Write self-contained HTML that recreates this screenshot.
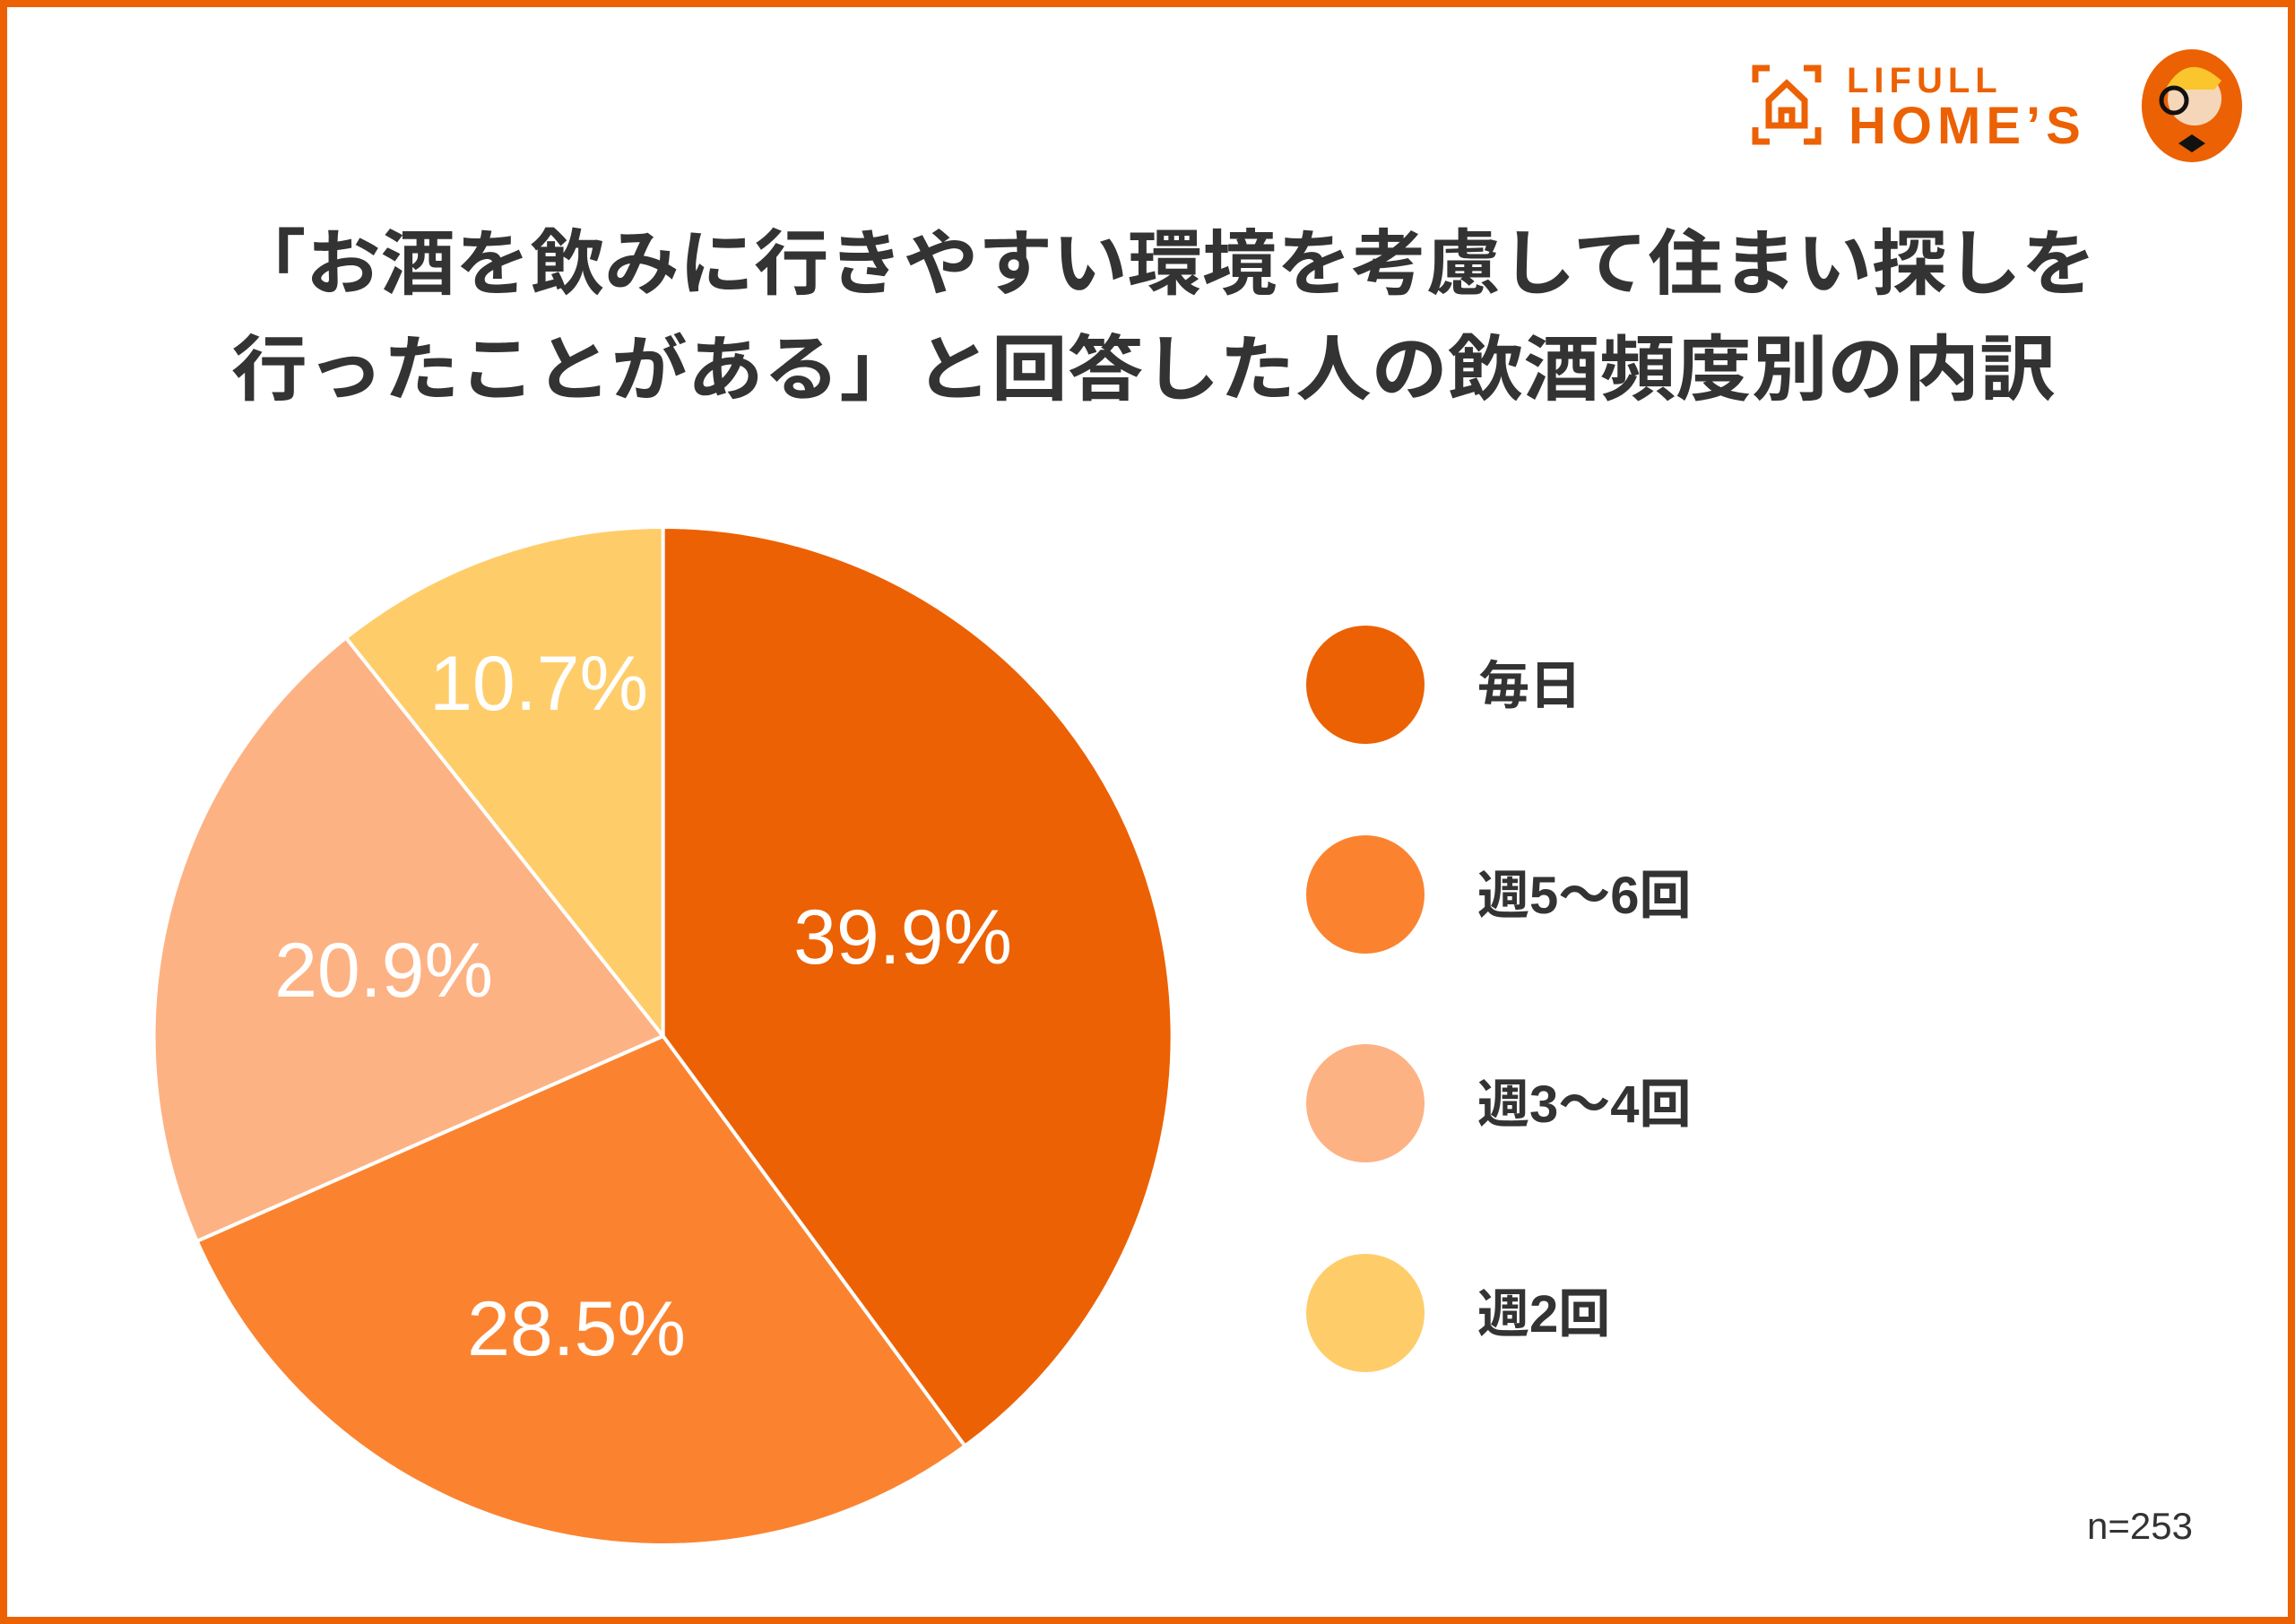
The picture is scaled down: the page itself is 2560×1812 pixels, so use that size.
<!DOCTYPE html>
<html><head><meta charset="utf-8"><style>
html,body{margin:0;padding:0;background:#fff}
svg{display:block}
text{font-family:"Liberation Sans","Noto Sans CJK JP",sans-serif}
</style></head><body>
<svg width="2560" height="1812" viewBox="0 0 2560 1812" xmlns="http://www.w3.org/2000/svg">
<rect x="4" y="4" width="2552" height="1804" fill="#fff" stroke="#EC6103" stroke-width="8"/>
<!-- logo -->
<g fill="none" stroke="#EC6103" stroke-width="7">
<path d="M1958 92 V76 H1974"/><path d="M2012 76 H2028 V92"/>
<path d="M1958 142 V158 H1974"/><path d="M2012 158 H2028 V142"/>
<path d="M1973 140 V112 L1993 93 L2013 112 V140 Z"/>
<path d="M1987 140 V123 H1999 V140"/>
</g>
<text x="2060" y="103" font-size="40" font-weight="bold" fill="#EC6103" letter-spacing="6">LIFULL</text>
<text x="2062" y="160" font-size="58" font-weight="bold" fill="#EC6103" letter-spacing="6">HOME’S</text>
<ellipse cx="2445" cy="118" rx="56" ry="63" fill="#EC6103"/>
<circle cx="2448" cy="110" r="30" fill="#F6D6B8"/>
<path d="M2415 100 Q2440 55 2478 90 L2470 100 Z" fill="#FBC62D"/>
<circle cx="2425" cy="112" r="14" fill="none" stroke="#111" stroke-width="5"/>
<path d="M2430 160 L2445 150 L2460 160 L2445 170Z" fill="#111"/>
<!-- title -->
<text x="258" y="322" font-size="80" font-weight="bold" fill="#333" textLength="2080" lengthAdjust="spacingAndGlyphs">「お酒を飲みに行きやすい環境を考慮して住まい探しを</text>
<text x="258" y="440" font-size="80" font-weight="bold" fill="#333" textLength="2035" lengthAdjust="spacingAndGlyphs">行ったことがある」と回答した人の飲酒頻度別の内訳</text>
<!-- pie -->
<g stroke="#fff" stroke-width="4" stroke-linejoin="round">
<path d="M739.6 1156 L739.6 588 A568 568 0 0 1 1076.4 1613.4 Z" fill="#EC6103"/>
<path d="M739.6 1156 L1076.4 1613.4 A568 568 0 0 1 219.7 1384.8 Z" fill="#FB8330"/>
<path d="M739.6 1156 L219.7 1384.8 A568 568 0 0 1 385.9 711.6 Z" fill="#FDB283"/>
<path d="M739.6 1156 L385.9 711.6 A568 568 0 0 1 739.6 588 Z" fill="#FECD6A"/>
</g>
<g fill="#fff" font-size="86" text-anchor="middle" font-weight="500">
<text x="1007" y="1075">39.9%</text>
<text x="643" y="1512">28.5%</text>
<text x="428" y="1112">20.9%</text>
<text x="601" y="792">10.7%</text>
</g>
<!-- legend -->
<circle cx="1523" cy="764" r="66" fill="#EC6103"/>
<circle cx="1523" cy="998" r="66" fill="#FB8330"/>
<circle cx="1523" cy="1231" r="66" fill="#FDB283"/>
<circle cx="1523" cy="1465" r="66" fill="#FECD6A"/>
<g fill="#333" font-size="58" font-weight="bold">
<text x="1648" y="785">毎日</text>
<text x="1648" y="1019">週5～6回</text>
<text x="1648" y="1252">週3～4回</text>
<text x="1648" y="1486">週2回</text>
</g>
<text x="2328" y="1717" font-size="42" fill="#333">n=253</text>
</svg>
</body></html>
